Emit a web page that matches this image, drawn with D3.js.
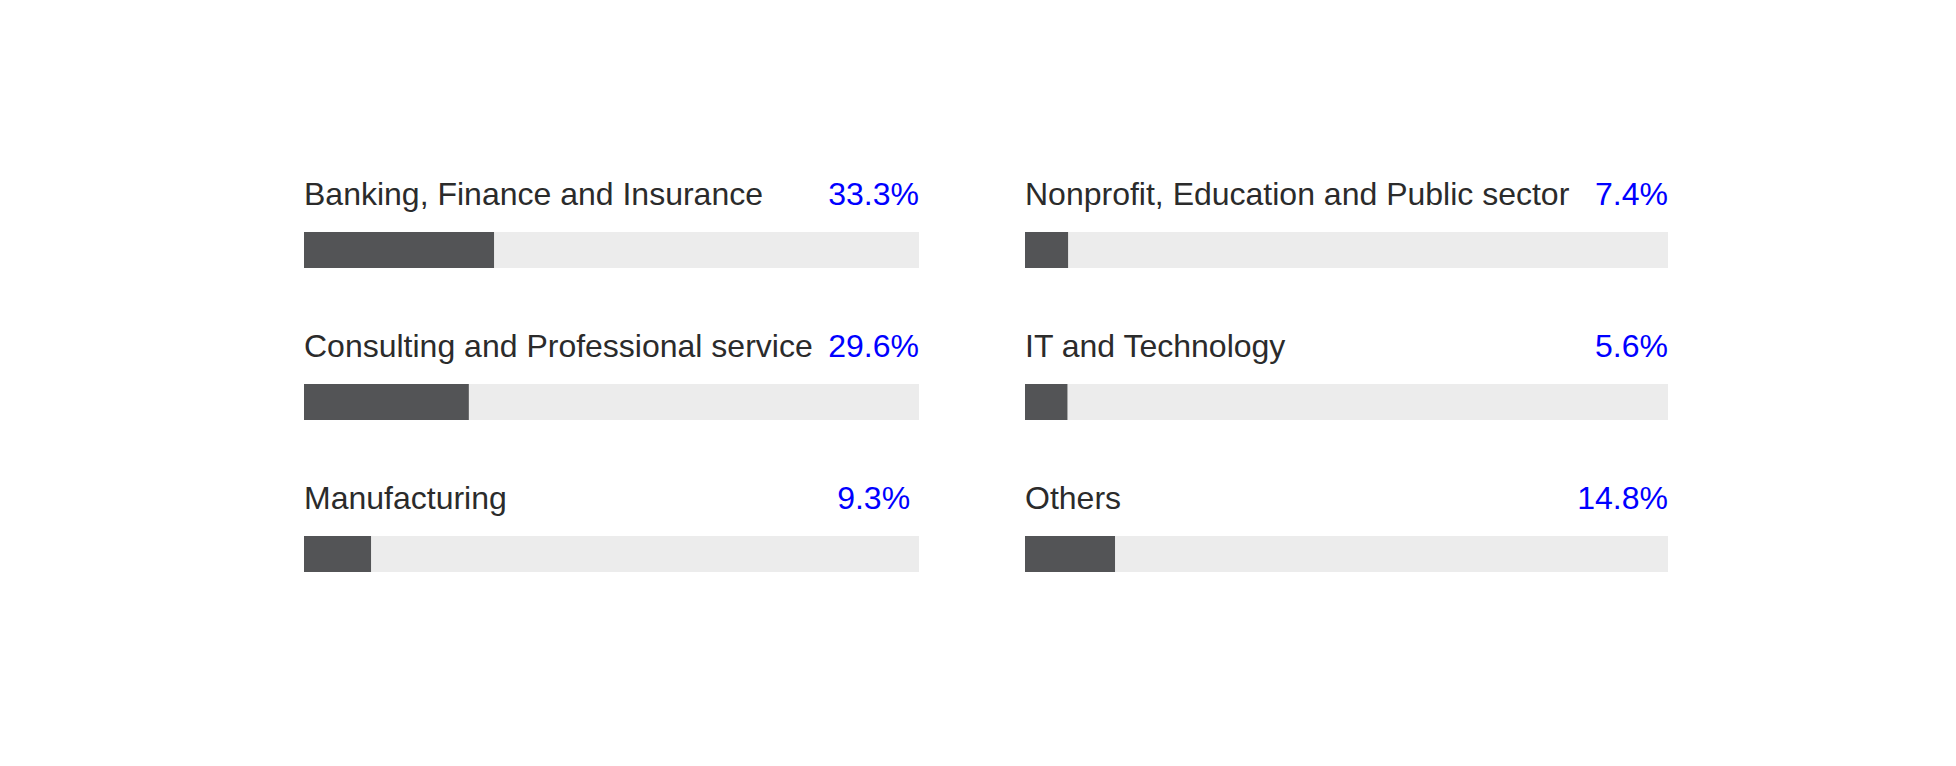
<!DOCTYPE html>
<html>
<head>
<meta charset="utf-8">
<script src="https://cdn.jsdelivr.net/npm/d3@7"></script>
<style>
    body { margin: 0; background: #ffffff; }
    .label { font-family: "Liberation Sans", Arial, Helvetica, sans-serif; font-size: 32px; fill: #2b2b2b; }
    .value { font-family: "Liberation Sans", Arial, Helvetica, sans-serif; font-size: 32px; fill: #0000ff; }
    .track { fill: #ececec; }
    .fill { fill: #535456; }
</style>
</head>
<body>
<script>
(function(){
    //chart data
    var categories = ["Banking, Finance and Insurance", "Consulting and Professional service", "Manufacturing",
                      "Nonprofit, Education and Public sector", "IT and Technology", "Others"];
    var valueLabels = ["33.3%", "29.6%", "9.3%\u00a0", "7.4%", "5.6%", "14.8%"];
    //length of the dark bar as percent of its grey track
    var barFill = [30.9, 26.8, 10.9, 6.7, 6.6, 14.0];
    var columnOf = [0, 0, 0, 1, 1, 1];
    var rowOf = [0, 1, 2, 0, 1, 2];

window.onload = setChart();

function setChart(){
    var width = 1956,
        height = 766;
    //svg container
    var svg = d3.select("body")
        .append("svg")
        .attr("width", width)
        .attr("height", height);

    //each column has its own track width
    var colX = [304, 1025],
        colW = [615, 643];
    var rowStep = 152,
        labelY = 205,
        barY = 232,
        barH = 36;

    var xScales = colW.map(function(w){
        return d3.scaleLinear().domain([0, 100]).range([0, w]);
    });

    var rows = categories.map(function(c, i){
        return {name: c, value: valueLabels[i], fill: barFill[i], col: columnOf[i], row: rowOf[i]};
    });

    var groups = svg.selectAll(".item")
        .data(rows)
        .enter()
        .append("g")
        .attr("class", "item")
        .attr("transform", function(d){
            return "translate(" + colX[d.col] + "," + (d.row * rowStep) + ")";
        });

    //category name
    groups.append("text")
        .attr("class", "label")
        .attr("x", 0)
        .attr("y", labelY)
        .text(function(d){ return d.name; });

    //percent, right aligned with the track
    groups.append("text")
        .attr("class", "value")
        .attr("x", function(d){ return xScales[d.col](100); })
        .attr("y", labelY)
        .attr("text-anchor", "end")
        .style("white-space", "pre")
        .text(function(d){ return d.value; });

    //grey track
    groups.append("rect")
        .attr("class", "track")
        .attr("x", 0)
        .attr("y", barY)
        .attr("width", function(d){ return xScales[d.col](100); })
        .attr("height", barH);

    //dark bar
    groups.append("rect")
        .attr("class", "fill")
        .attr("x", 0)
        .attr("y", barY)
        .attr("width", function(d){ return xScales[d.col](d.fill); })
        .attr("height", barH);
};
})();
</script>
</body>
</html>
